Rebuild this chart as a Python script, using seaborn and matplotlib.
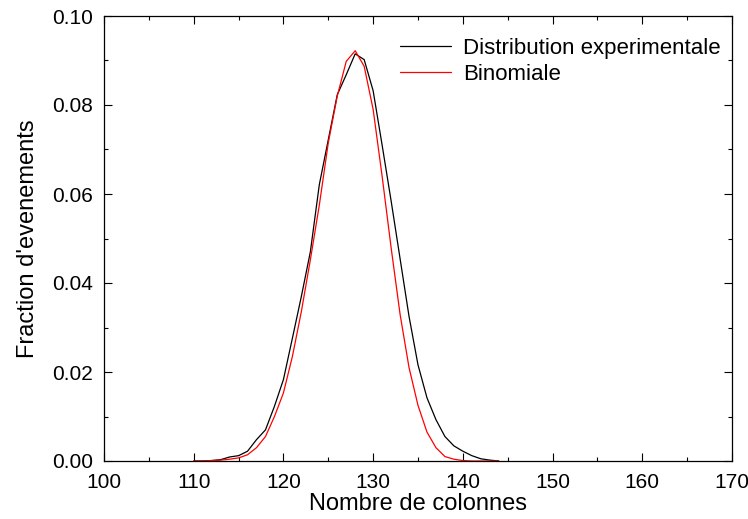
import numpy as np
import pandas as pd
import matplotlib
matplotlib.use("Agg")
import matplotlib.pyplot as plt
import seaborn as sns
from matplotlib.ticker import MultipleLocator, FormatStrFormatter

# ---- data ----
x_exp = list(range(110, 145))
y_exp = [0.0, 0.0, 0.0001, 0.0003, 0.0009, 0.0012, 0.0022, 0.0048, 0.0070, 0.0123,
         0.0183, 0.0276, 0.0370, 0.0470, 0.0621, 0.0722, 0.0823, 0.0868, 0.0915, 0.0902,
         0.0832, 0.0710, 0.0585, 0.0455, 0.0325, 0.0216, 0.0142, 0.0093, 0.0055, 0.0034,
         0.0022, 0.0012, 0.0005, 0.0002, 0.0]

x_bin = list(range(110, 145))
y_bin = [0.0, 0.0, 0.0001, 0.0002, 0.0004, 0.0007, 0.0014, 0.0030, 0.0055, 0.0100,
         0.0153, 0.0235, 0.0336, 0.0452, 0.0575, 0.0715, 0.0820, 0.0898, 0.0922, 0.0887,
         0.0790, 0.0640, 0.0480, 0.0330, 0.0210, 0.0125, 0.0065, 0.0030, 0.0010, 0.0004,
         0.0001, 0.0, 0.0, 0.0, 0.0]

series_names = ["Distribution experimentale", "Binomiale"]
series_colors = ["black", "red"]

df = pd.concat([
    pd.DataFrame({"x": x_exp, "y": y_exp, "serie": series_names[0]}),
    pd.DataFrame({"x": x_bin, "y": y_bin, "serie": series_names[1]}),
], ignore_index=True)

sns.set_theme(style="ticks")
plt.rcParams["font.family"] = ["Liberation Sans", "DejaVu Sans"]
plt.rcParams["text.color"] = "black"
plt.rcParams["axes.labelcolor"] = "black"
plt.rcParams["xtick.color"] = "black"
plt.rcParams["ytick.color"] = "black"

fig = plt.figure(figsize=(7.48, 5.19), dpi=100)
ax = fig.add_axes([104 / 748, 58 / 519, 628 / 748, 445 / 519])

sns.lineplot(data=df, x="x", y="y", hue="serie", hue_order=series_names,
             palette=dict(zip(series_names, series_colors)), linewidth=0.9,
             ax=ax, legend=True, sort=False)

ax.set_xlim(100, 170)
ax.set_ylim(0, 0.10)
ax.xaxis.set_major_locator(MultipleLocator(10))
ax.xaxis.set_minor_locator(MultipleLocator(5))
ax.yaxis.set_major_locator(MultipleLocator(0.02))
ax.yaxis.set_minor_locator(MultipleLocator(0.01))
ax.yaxis.set_major_formatter(FormatStrFormatter("%.2f"))
ax.tick_params(which="both", direction="in", top=True, right=True, width=0.8,
               colors="black", labelcolor="black")
ax.tick_params(which="major", length=6, labelsize=15)
ax.tick_params(axis="x", which="major", pad=9)
ax.tick_params(axis="y", which="major", pad=8)
ax.tick_params(which="minor", length=3)
for s in ax.spines.values():
    s.set_linewidth(0.9)
    s.set_color("black")

ax.set_xlabel("Nombre de colonnes", fontsize=17, labelpad=0, color="black")
ax.set_ylabel("Fraction d'evenements", fontsize=17, labelpad=9, color="black")

leg = ax.legend(loc="upper left", bbox_to_anchor=(0.471, 0.95), frameon=False,
                fontsize=16, handlelength=2.3, handletextpad=0.55,
                labelspacing=0.2, borderpad=0, borderaxespad=0)
for h in leg.get_lines():
    h.set_linewidth(0.9)
for t in leg.get_texts():
    t.set_color("black")

fig.savefig("out.png", dpi=100)
